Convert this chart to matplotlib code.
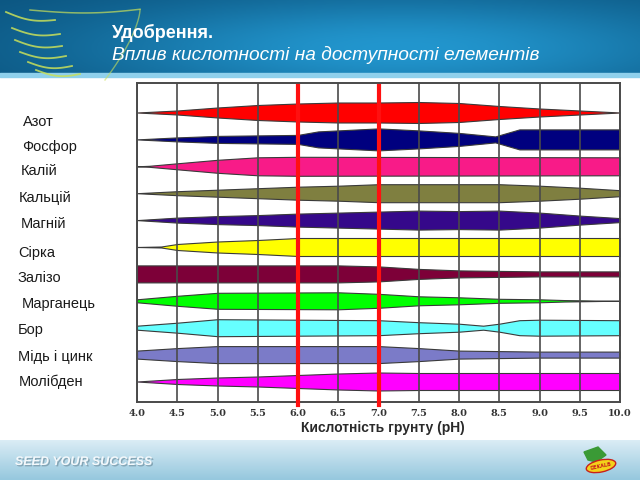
import numpy as np
import matplotlib
matplotlib.use("Agg")
import matplotlib.pyplot as plt
from matplotlib.patches import Ellipse, Polygon
import matplotlib.patheffects as pe

# ---------------- data ----------------
elements = ["Азот", "Фосфор", "Калій", "Кальцій", "Магній", "Сірка",
            "Залізо", "Марганець", "Бор", "Мідь і цинк", "Молібден"]
band_colors = ["#ff0000", "#00007f", "#f81b88", "#7f7f40", "#35088a", "#ffff00",
               "#7d0038", "#00ff00", "#66ffff", "#7b7bc8", "#ff00ff"]

ph_ticks = [4.0, 4.5, 5.0, 5.5, 6.0, 6.5, 7.0, 7.5, 8.0, 8.5, 9.0, 9.5, 10.0]
ph_tick_labels = ["4.0", "4.5", "5.0", "5.5", "6.0", "6.5", "7.0", "7.5",
                  "8.0", "8.5", "9.0", "9.5", "10.0"]
optimum_ph = [6.0, 7.0]

# band thickness (relative availability) at given pH
azot_ph = ph_ticks
azot_w = [0, 4, 10, 15, 18, 20, 20, 21, 19, 13, 8, 4, 0]
fosfor_ph = [4.0, 4.5, 5.0, 5.5, 6.0, 6.25, 6.5, 7.0, 7.5, 8.0, 8.45, 8.75, 10.0]
fosfor_w = [0, 4, 7, 8, 9, 16, 18, 22, 18, 13, 6, 20, 20]
kaliy_ph = [4.0, 4.15, 4.5, 5.0, 5.5, 6.0, 10.0]
kaliy_w = [0, 1, 6, 13, 18, 19, 18]
kalciy_ph = ph_ticks
kalciy_w = [0, 4, 7, 10, 13, 15, 18, 18, 18, 18, 15, 11, 6]
magniy_ph = ph_ticks
magniy_w = [0, 5, 8, 10, 13, 15, 17, 19, 18, 19, 15, 9, 4]
sirka_ph = [4.0, 4.3, 4.5, 5.0, 5.5, 6.0, 10.0]
sirka_w = [0, 1, 6, 11, 14, 18, 18]
zalizo_ph = ph_ticks
zalizo_w = [17, 17, 17, 17, 17, 17, 15, 10, 7, 6, 5, 5, 5]
marganets_ph = [4.0, 4.5, 5.0, 6.5, 7.0, 7.5, 8.0, 8.5, 9.0, 9.3, 9.9, 10.0]
marganets_w = [3, 10, 16, 17, 14, 9, 7, 4, 3, 1.5, 0, 0]
bor_ph = [4.0, 4.5, 5.0, 7.0, 7.5, 8.0, 8.3, 8.5, 8.75, 9.0, 10.0]
bor_w = [4, 10, 17, 15, 11, 8, 4, 8, 15, 16, 15]
med_ph = ph_ticks
med_w = [8, 13, 17, 17, 17, 17, 17, 13, 8, 7, 6, 6, 6]
molibden_ph = ph_ticks
molibden_w = [0, 5, 8, 10, 13, 16, 18, 17, 17, 17, 17, 17, 17]

band_ph = [azot_ph, fosfor_ph, kaliy_ph, kalciy_ph, magniy_ph, sirka_ph,
           zalizo_ph, marganets_ph, bor_ph, med_ph, molibden_ph]
band_w = [azot_w, fosfor_w, kaliy_w, kalciy_w, magniy_w, sirka_w,
          zalizo_w, marganets_w, bor_w, med_w, molibden_w]

# ---------------- layout ----------------
W, H = 640, 480
ROW_PX = 26.9          # pixels per row
ROW0_PX = 112.5        # centre of first band in px
AX_L, AX_R, AX_T, AX_B = 137, 620, 83, 402
label_x = [23, 22, 21, 19, 21, 18, 18, 22, 18, 18, 19]
label_y = [122, 147, 171, 198, 224, 253, 278, 304, 330, 357, 382]

fig = plt.figure(figsize=(6.4, 4.8), dpi=100)
bg = fig.add_axes([0, 0, 1, 1])
bg.set_xlim(0, W)
bg.set_ylim(H, 0)
bg.axis("off")

# header gradient
xx, yy = np.meshgrid(np.linspace(0, W, 320), np.linspace(0, 76, 60))
f = np.exp(-((xx - 400) / 330) ** 2 - ((yy - 48) / 55) ** 2)
dark = np.array([10, 80, 122]) / 255
light = np.array([34, 150, 206]) / 255
img = dark[None, None, :] * (1 - f[..., None]) + light[None, None, :] * f[..., None]
bg.imshow(img, extent=[0, W, 76, 0], aspect="auto", zorder=0)
bg.fill_between([0, W], 73, 77, color="#8fd0ec", zorder=1)

# wing decoration
wing_col = "#c8e05a"
for (x0, y0, x1, y1) in [(6, 12, 55, 20), (12, 28, 60, 34), (15, 40, 62, 46),
                         (20, 52, 66, 56), (28, 62, 72, 66), (36, 70, 80, 74)]:
    t = np.linspace(0, 1, 30)
    bg.plot(x0 + (x1 - x0) * t, y0 + (y1 - y0) * t + 4 * np.sin(np.pi * t),
            color=wing_col, lw=1.3, alpha=0.85, zorder=2)
t = np.linspace(0, 1, 60)
bg.plot(30 + 110 * t, 10 + 4 * np.sin(np.pi * t * 0.9) - 2 * t, color=wing_col, lw=1.1, alpha=0.7, zorder=2)
bg.plot(140 - 35 * t ** 1.5, 10 + 70 * t, color=wing_col, lw=1.0, alpha=0.6, zorder=2)

bg.text(112, 33, "Удобрення.", color="white", fontsize=13, fontweight="bold",
        family="Liberation Sans", va="center", ha="left", zorder=3)
bg.text(112, 55, "Вплив кислотності на доступності елементів", color="white",
        fontsize=13.8, style="italic", family="Liberation Sans", va="center",
        ha="left", zorder=3)

# footer gradient
fy = np.linspace(0, 1, 40)[:, None, None]
top_c = np.array([218, 236, 245]) / 255
bot_c = np.array([150, 200, 222]) / 255
fimg = top_c * (1 - fy) + bot_c * fy
fimg = np.repeat(fimg, 10, axis=1)
bg.imshow(fimg, extent=[0, W, H, 440], aspect="auto", zorder=0)
bg.text(15, 462, "SEED YOUR SUCCESS", color="#f4f8fb", fontsize=9,
        fontweight="bold", style="italic", family="Liberation Sans",
        va="center", ha="left", zorder=3,
        path_effects=[pe.withSimplePatchShadow(offset=(1, -1), shadow_rgbFace="#7a9aaa", alpha=0.8)])
# logo
bg.add_patch(Polygon([[584, 452], [598, 447], [606, 455], [596, 462], [588, 460]],
                     closed=True, color="#3a9a35", zorder=3))
bg.add_patch(Ellipse((601, 466), 30, 12, angle=-12, facecolor="#f3d21a",
                     edgecolor="#c8201a", lw=1.0, zorder=4))
bg.text(601, 466, "DEKALB", fontsize=3.5, color="#c8201a", fontweight="bold",
        ha="center", va="center", rotation=12, zorder=5)

# element labels
for name, lx, ly in zip(elements, label_x, label_y):
    bg.text(lx, ly, name, fontsize=10.5, family="Liberation Sans", color="#1a1a1a",
            va="center", ha="left", zorder=3)

bg.text(383, 428, "Кислотність грунту (pH)", fontsize=10, fontweight="bold",
        family="Liberation Sans", color="#2a2a2a", ha="center", va="center", zorder=3)

# ---------------- chart ----------------
ax = fig.add_axes([AX_L / W, 1 - AX_B / H, (AX_R - AX_L) / W, (AX_B - AX_T) / H])
ax.set_xlim(4.0, 10.0)
ax.set_ylim((AX_B - ROW0_PX) / ROW_PX, (AX_T - ROW0_PX) / ROW_PX)
ax.set_facecolor("white")

for i, (p, w, c) in enumerate(zip(band_ph, band_w, band_colors)):
    half = np.asarray(w, dtype=float) / 2.0 / ROW_PX
    ax.fill_between(p, i - half, i + half, facecolor=c, edgecolor="#3a3a3a",
                    linewidth=0.8, zorder=2)

for x in ph_ticks:
    ax.axvline(x, color="#4a4a4a", lw=1.2, zorder=3)
for s in ax.spines.values():
    s.set_color("#4a4a4a")
    s.set_linewidth(1.4)
    s.set_zorder(4)

for x in optimum_ph:
    ax.axvline(x, ymin=-0.01, ymax=0.99, color="#ff1010", lw=3, zorder=5, clip_on=False)

ax.set_yticks([])
ax.set_xticks(ph_ticks)
ax.set_xticklabels(ph_tick_labels, family="DejaVu Serif", fontweight="bold",
                   fontsize=7, color="#333333")
ax.tick_params(axis="x", length=0, pad=5)

fig.savefig("out.png", dpi=100)
